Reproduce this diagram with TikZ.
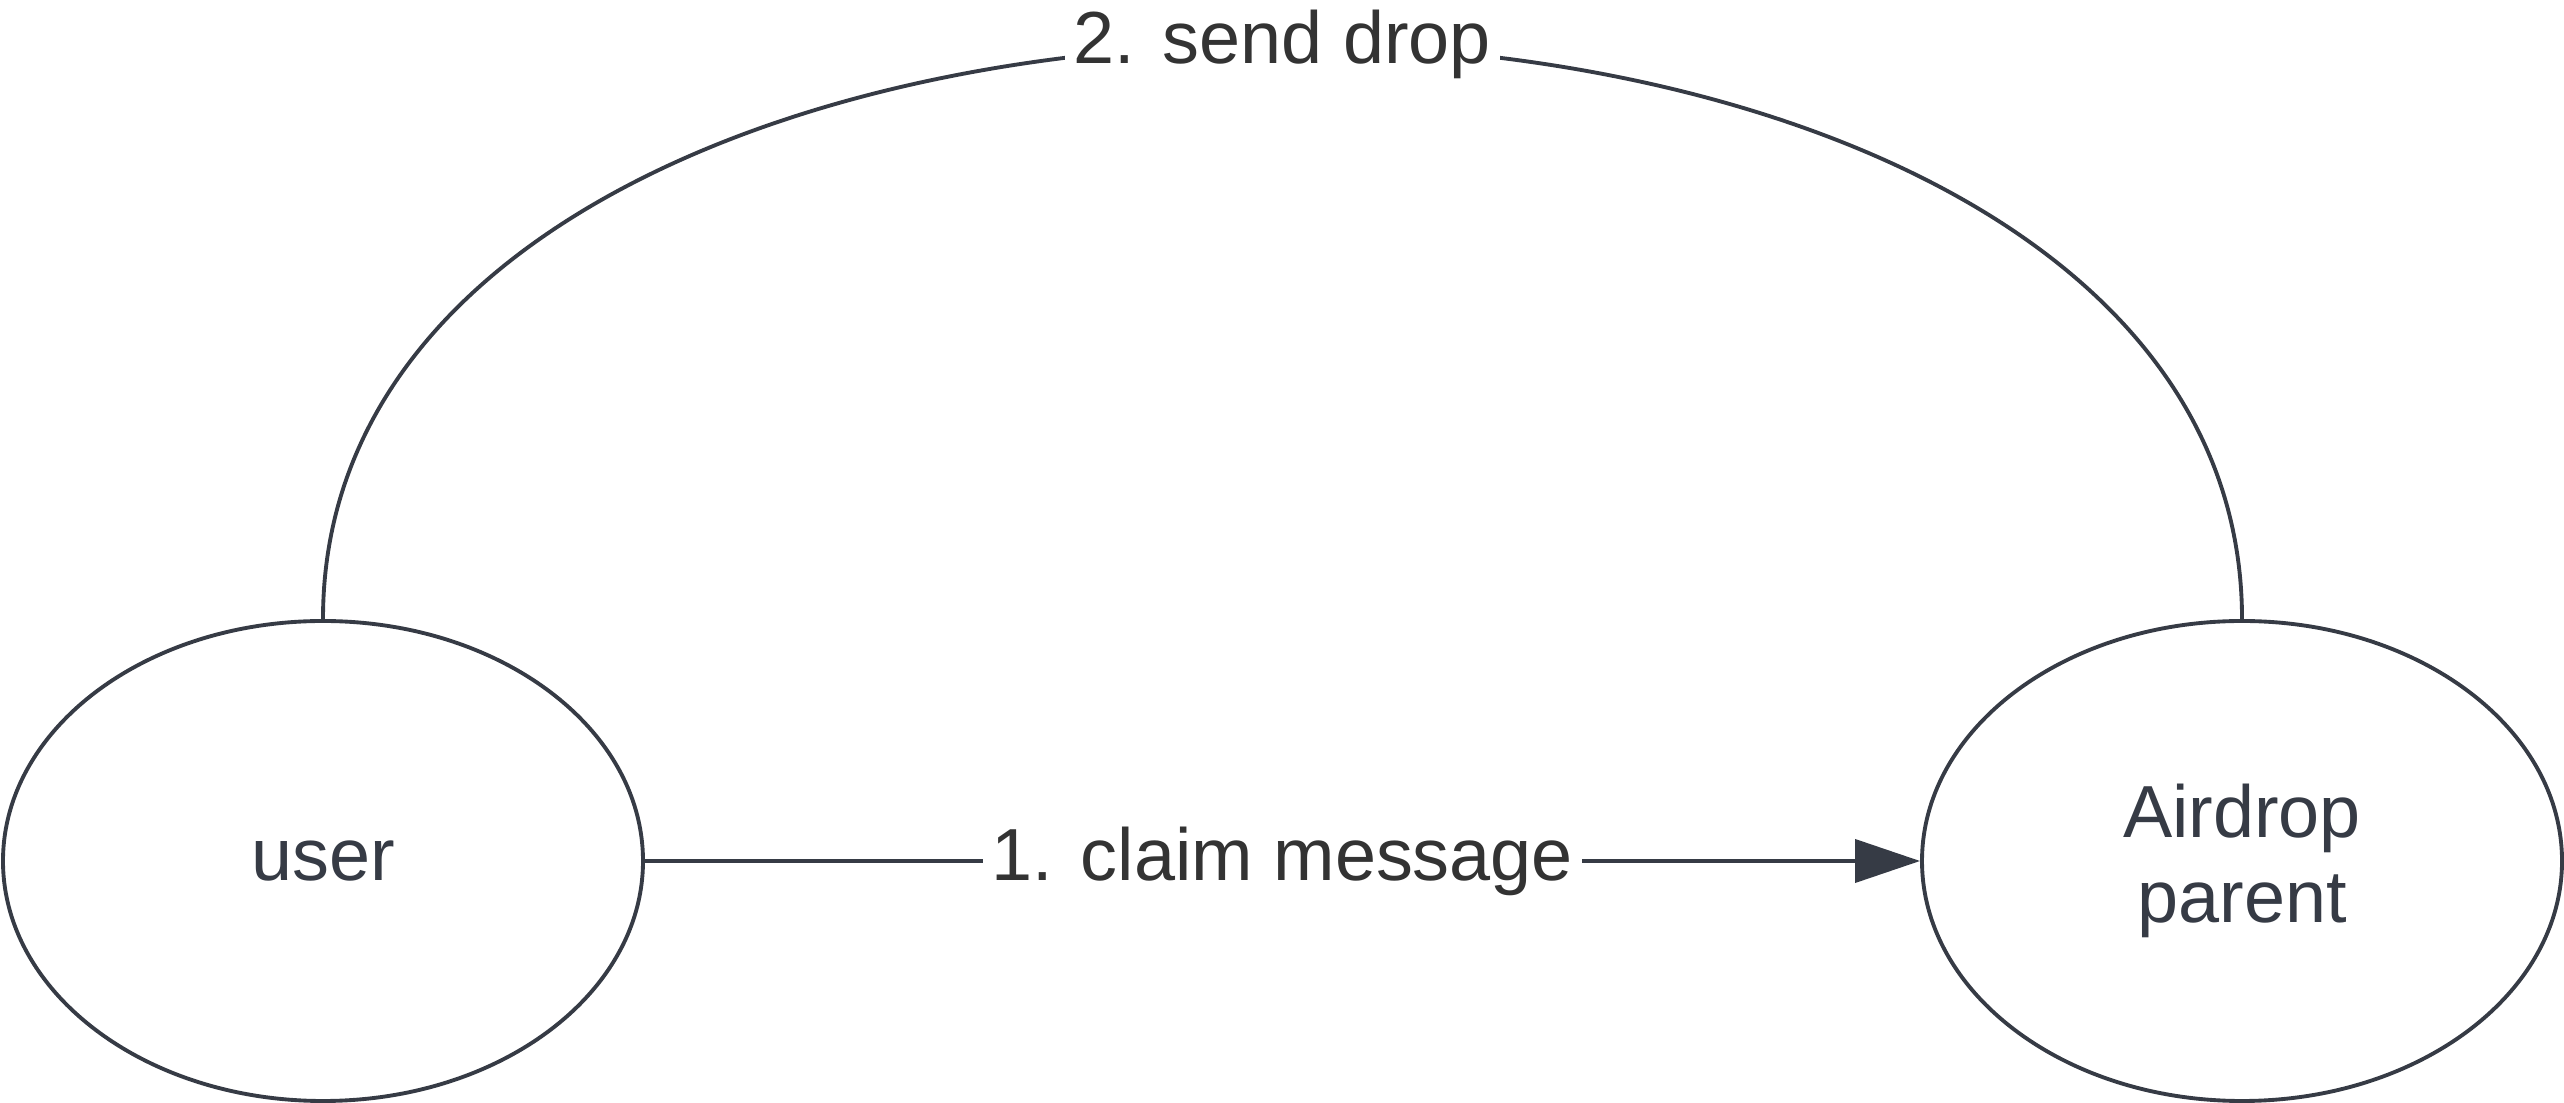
\documentclass[tikz,border=0pt]{standalone}
\usepackage{fontspec}
\setmainfont{Liberation Sans}
\usetikzlibrary{shapes.geometric,arrows.meta}
\definecolor{edgegray}{HTML}{363B45}
\definecolor{labelgray}{HTML}{333333}
\begin{document}
\begin{tikzpicture}
    \def\dx{1cm}
    \def\dy{1cm}

    \useasboundingbox (0,0) rectangle (25.64*\dx,11.03*\dy);

    \tikzstyle{actor}=[ellipse,draw=edgegray,line width=1.1pt,text=edgegray,minimum width=6.40cm,minimum height=4.80cm,inner sep=0pt,align=center,font=\fontsize{21}{24.4}\selectfont]
    \tikzstyle{msg}=[fill=white,text=labelgray,inner sep=2.5pt,font=\fontsize{21}{24.4}\selectfont]

    \node[actor]  (user) at (3.23*\dx,2.42*\dy) {user};
    \node[actor]  (parent) at (22.42*\dx,2.42*\dy) {Airdrop\\parent};

    \tikzstyle{fwd} = [draw=edgegray, line width=1.1pt]

          \draw [fwd,-{Triangle[length=0.65cm,width=0.43cm]}] (user) -- node[msg] {1. claim message} (parent);
          \draw [fwd] (user.north) .. controls (3.23*\dx,12.50*\dy) and (22.42*\dx,12.50*\dy) .. node[msg] {2. send drop} (parent.north);
  \end{tikzpicture}
\end{document}
